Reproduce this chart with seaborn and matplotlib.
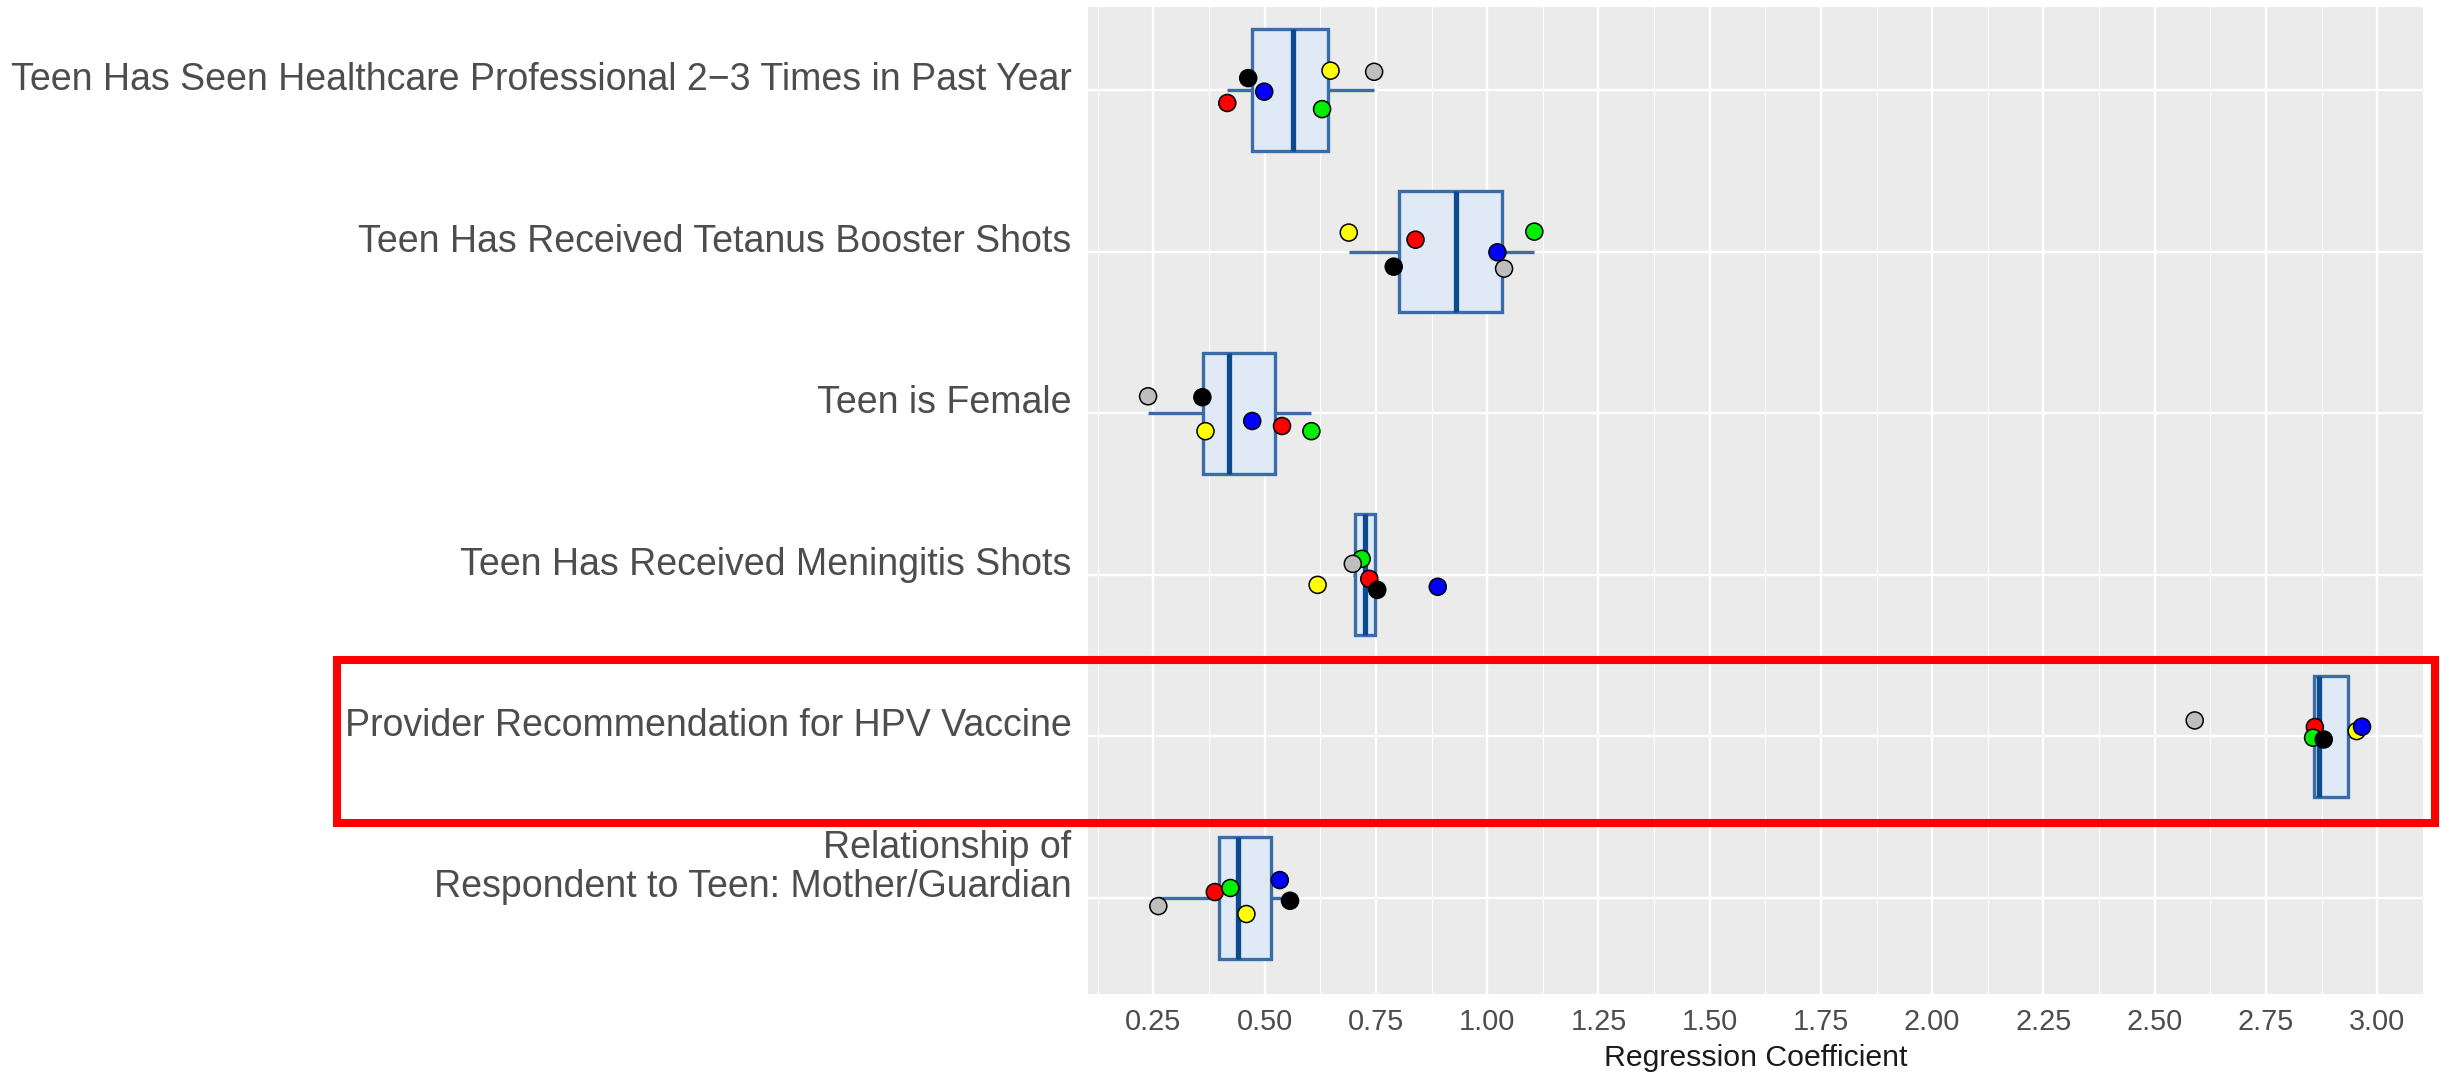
import numpy as np
import pandas as pd
import matplotlib
matplotlib.use("Agg")
import matplotlib.pyplot as plt
import matplotlib.transforms as mtransforms
from matplotlib.patches import Rectangle
from matplotlib.ticker import AutoMinorLocator
import seaborn as sns

# Predictors, top to bottom
predictors = [
    "Teen Has Seen Healthcare Professional 2\u22123 Times in Past Year",
    "Teen Has Received Tetanus Booster Shots",
    "Teen is Female",
    "Teen Has Received Meningitis Shots",
    "Provider Recommendation for HPV Vaccine",
    "Relationship of\nRespondent to Teen: Mother/Guardian",
]
highlighted = "Provider Recommendation for HPV Vaccine"

# Models (drawing order) and their point colours
models = ["red", "green", "grey", "yellow", "black", "blue"]
model_colors = ["#FF0000", "#00EE00", "#BEBEBE", "#FFFF00", "#000000", "#0000FF"]

# Regression coefficient of each predictor, one list per model
coef_red = [0.416, 0.839, 0.539, 0.735, 2.860, 0.388]
coef_green = [0.629, 1.106, 0.605, 0.718, 2.856, 0.423]
coef_grey = [0.746, 1.038, 0.238, 0.698, 2.590, 0.261]
coef_yellow = [0.648, 0.689, 0.367, 0.619, 2.954, 0.459]
coef_black = [0.463, 0.790, 0.360, 0.753, 2.880, 0.557]
coef_blue = [0.499, 1.023, 0.472, 0.889, 2.966, 0.534]

# Vertical jitter of the points around each row (category units)
jit_red = [0.080, -0.074, 0.079, 0.025, -0.058, -0.037]
jit_green = [0.118, -0.124, 0.111, -0.099, 0.008, -0.062]
jit_grey = [-0.113, 0.105, -0.105, -0.068, -0.099, 0.050]
jit_yellow = [-0.120, -0.118, 0.111, 0.062, -0.033, 0.099]
jit_black = [-0.074, 0.093, -0.099, 0.093, 0.019, 0.017]
jit_blue = [0.010, 0.004, 0.048, 0.074, -0.060, -0.111]

x_ticks = [0.25, 0.50, 0.75, 1.00, 1.25, 1.50, 1.75, 2.00, 2.25, 2.50, 2.75, 3.00]

coefs = [coef_red, coef_green, coef_grey, coef_yellow, coef_black, coef_blue]
jitters = [jit_red, jit_green, jit_grey, jit_yellow, jit_black, jit_blue]

rows = []
for m, cvals, jvals in zip(models, coefs, jitters):
    for i, (c, j) in enumerate(zip(cvals, jvals)):
        rows.append({"model": m, "row": i, "coef": c, "ypos": i + j})
df = pd.DataFrame(rows)

sns.set_theme(style="darkgrid", rc={
    "axes.facecolor": "#EBEBEB",
    "grid.color": "white",
    "figure.facecolor": "white",
})
plt.rcParams["font.family"] = ["Liberation Sans", "DejaVu Sans"]

fig = plt.figure(figsize=(24.4, 10.77), dpi=100)
ax = fig.add_axes([1088 / 2440, 1 - 994 / 1077, (2423 - 1088) / 2440, (994 - 7) / 1077])

BOX_FILL = "#E0EAF7"
BOX_EDGE = "#3A6DA8"
MEDIAN = "#0B4A8C"

sns.boxplot(
    data=df, x="coef", y="row", orient="h", width=0.75, whis=1.5,
    showfliers=False, saturation=1, color=BOX_FILL, linecolor=BOX_EDGE,
    linewidth=2.4, medianprops={"color": MEDIAN, "linewidth": 3.8},
    capprops={"linewidth": 0}, ax=ax,
)

sns.scatterplot(
    data=df, x="coef", y="ypos", hue="model",
    palette=dict(zip(models, model_colors)), s=150, edgecolor="black",
    linewidth=1.1, legend=False, ax=ax, zorder=3,
)

ax.set_xlim(0.103, 3.103)
ax.set_ylim(5.594, -0.514)
ax.set_xticks(x_ticks)
ax.set_xticklabels([f"{t:.2f}" for t in x_ticks])
ax.xaxis.set_minor_locator(AutoMinorLocator(2))
ax.set_yticks(range(len(predictors)))
ax.set_yticklabels(predictors)

ax.grid(True, which="major", color="white", linewidth=1.7)
ax.grid(True, which="minor", axis="x", color="white", linewidth=0.85)
ax.yaxis.grid(True, which="major", color="white", linewidth=1.7)
for s in ax.spines.values():
    s.set_visible(False)

ax.tick_params(axis="both", which="major", length=6, width=2, color="#333333")
ax.tick_params(axis="y", which="major", labelsize=27.0, labelcolor="#4D4D4D", pad=6)
ax.tick_params(axis="x", which="major", labelsize=20.8, labelcolor="#4D4D4D", pad=4)
ax.tick_params(which="minor", length=0)

shift_down = mtransforms.ScaledTranslation(0, -7 / 100, fig.dpi_scale_trans)
for lab in ax.get_yticklabels():
    if "\n" in lab.get_text():
        lab.set_va("bottom")
        lab.set_linespacing(1.12)
        lab.set_transform(lab.get_transform() + shift_down)
    else:
        lab.set_va("baseline")

ax.set_xlabel("Regression Coefficient", fontsize=21.8, color="#1A1A1A", labelpad=6)
ax.set_ylabel("")

# Frame around the highlighted predictor, spanning labels and panel
hi = predictors.index(highlighted)
trans = mtransforms.blended_transform_factory(fig.transFigure, ax.transData)
frame = Rectangle((337 / 2440, hi - 0.476), (2435 - 337) / 2440, 1.014,
                  transform=trans, fill=False, edgecolor="#FF0000",
                  linewidth=5.8, clip_on=False, zorder=10)
fig.add_artist(frame)

fig.savefig("out.png", dpi=100)
